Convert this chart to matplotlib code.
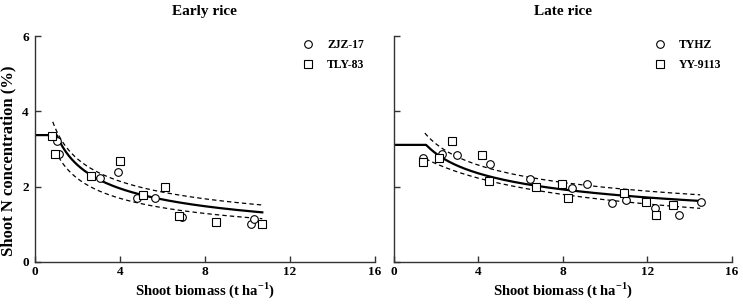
import numpy as np
import matplotlib
matplotlib.use("Agg")
import matplotlib.pyplot as plt

plt.rcParams['font.family'] = ['Liberation Serif', 'DejaVu Serif']
plt.rcParams['font.weight'] = 'bold'
plt.rcParams['mathtext.fontset'] = 'custom'
plt.rcParams['mathtext.rm'] = 'Liberation Serif:bold'

# Early rice observations
early_zjz_x = [1.03, 1.14, 3.04, 3.90, 4.81, 5.65, 6.94, 10.18, 10.30]
early_zjz_y = [3.22, 2.88, 2.24, 2.38, 1.69, 1.71, 1.20, 1.02, 1.13]
early_tly_x = [0.79, 0.95, 2.65, 3.99, 5.10, 6.12, 6.78, 8.52, 10.68]
early_tly_y = [3.34, 2.88, 2.28, 2.69, 1.78, 1.99, 1.22, 1.06, 1.02]

# Late rice observations
late_tyhz_x = [1.39, 2.29, 3.01, 4.57, 6.46, 8.45, 9.14, 10.34, 11.00, 12.34, 13.49, 14.52]
late_tyhz_y = [2.77, 2.86, 2.83, 2.60, 2.20, 1.97, 2.06, 1.56, 1.64, 1.44, 1.24, 1.59]
late_yy_x = [1.39, 2.14, 2.76, 4.18, 4.51, 6.71, 7.96, 8.24, 10.88, 11.92, 12.42, 13.21]
late_yy_y = [2.65, 2.77, 3.20, 2.83, 2.15, 2.00, 2.06, 1.69, 1.82, 1.60, 1.26, 1.51]

# Critical N dilution curve  Nc = a * W^-b, capped by a plateau at low biomass
early_curve = dict(plateau=3.37, a=3.40, b=0.40, w_end=10.7)
late_curve = dict(plateau=3.11, a=3.52, b=0.29, w_end=14.5)
# bounds  N = a * W^-b * exp(c * ln(W)^2)
early_upper = dict(a=3.50, b=0.354, c=0.0, w_start=0.84, w_end=10.7)
early_lower = dict(a=2.91, b=0.392, c=0.0, w_start=0.95, w_end=10.7)
late_upper = dict(a=3.82, b=0.285, c=0.0, w_start=1.47, w_end=14.5)
late_lower = dict(a=2.89, b=0.106, c=-0.0594, w_start=1.50, w_end=14.5)


def draw_panel(ax, title, s1, s2, curve, upper, lower, labels):
    w = np.linspace(0.0, curve['w_end'], 400)
    nc = np.minimum(curve['plateau'], curve['a'] * np.power(np.maximum(w, 1e-6), -curve['b']))
    ax.plot(w, nc, color='black', lw=1.6, zorder=2)
    for bd in (upper, lower):
        wb = np.linspace(bd['w_start'], bd['w_end'], 200)
        yb = bd['a'] * wb ** -bd['b'] * np.exp(bd['c'] * np.log(wb) ** 2)
        ax.plot(wb, yb, color='black', lw=0.9, ls=(0, (3.5, 2.5)), zorder=2)
    ax.plot(s1[0], s1[1], 'o', ms=5.5, mfc='white', mec='black', mew=0.8,
            ls='none', label=labels[0], zorder=3)
    ax.plot(s2[0], s2[1], 's', ms=5.5, mfc='white', mec='black', mew=0.8,
            ls='none', label=labels[1], zorder=3)
    ax.set_xlim(0, 16)
    ax.set_ylim(0, 6)
    ax.set_xticks([0, 4, 8, 12, 16])
    ax.set_yticks([0, 2, 4, 6])
    ax.spines['top'].set_visible(False)
    ax.spines['right'].set_visible(False)
    for sp in ('left', 'bottom'):
        ax.spines[sp].set_linewidth(1.0)
        ax.spines[sp].set_color('#333333')
    ax.tick_params(direction='in', length=4, width=1, color='#333333', labelsize=9.5)
    ax.tick_params(axis='x', pad=3)
    ax.tick_params(axis='y', pad=4.5)
    ax.set_title(title, fontsize=11, fontweight='bold', pad=15)
    ax.legend(loc='upper right', frameon=False, fontsize=8.5, handletextpad=0.6,
              borderaxespad=0.2, labelspacing=0.7, bbox_to_anchor=(0.99, 1.02))
    bb = ax.get_position()
    ax.figure.text((bb.x0 + bb.x1) / 2, 0.035, 'Shoot biomass (t ha$^{-1}$)',
                   ha='center', va='baseline', fontsize=10.5, fontweight='bold')


fig = plt.figure(figsize=(7.43, 3.06), dpi=100)
ax1 = fig.add_axes([0.047, 0.144, 0.4576, 0.738])
ax2 = fig.add_axes([0.530, 0.144, 0.455, 0.738])

draw_panel(ax1, 'Early rice', (early_zjz_x, early_zjz_y), (early_tly_x, early_tly_y),
           early_curve, early_upper, early_lower, ['ZJZ-17', 'TLY-83'])
draw_panel(ax2, 'Late rice', (late_tyhz_x, late_tyhz_y), (late_yy_x, late_yy_y),
           late_curve, late_upper, late_lower, ['TYHZ', 'YY-9113'])

fig.text(8 / 743, 1 - 161 / 306, 'Shoot N concentration (%)', rotation=90,
         ha='center', va='center', fontsize=12, fontweight='bold')
ax2.set_yticklabels([])

fig.savefig('out.png', dpi=100)
